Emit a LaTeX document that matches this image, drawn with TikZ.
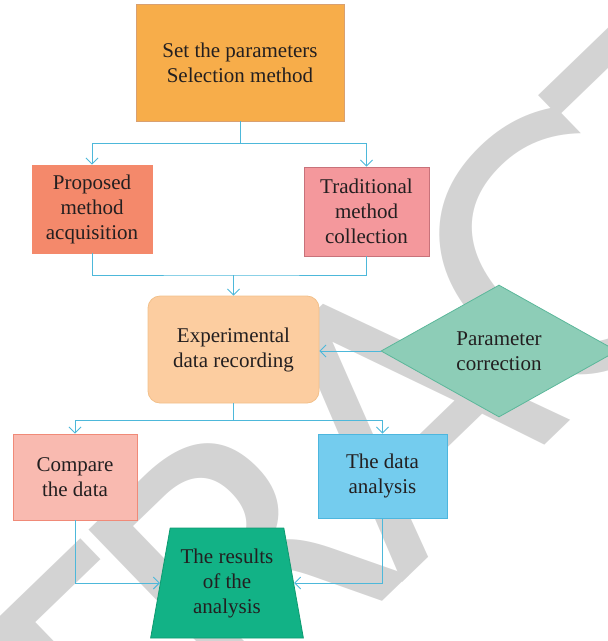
\documentclass[tikz,border=0pt]{standalone}
\usepackage{fontspec}
\setmainfont{Liberation Serif}
\newfontfamily\stampfont{DejaVu Sans}
\usepackage{tikz}
\usetikzlibrary{shapes.geometric}
\usetikzlibrary{arrows.meta}
\usetikzlibrary{calc}
\usepackage{xcolor}

\definecolor{linkblue}{HTML}{4DB8DA}
\definecolor{txtgray}{HTML}{231F20}
\definecolor{stampgray}{HTML}{D3D3D3}
\definecolor{paramfill}{HTML}{F7AD4A}
\definecolor{paramline}{HTML}{D9A070}
\definecolor{propfill}{HTML}{F4896B}
\definecolor{tradfill}{HTML}{F4989C}
\definecolor{tradline}{HTML}{C8727A}
\definecolor{expfill}{HTML}{FCCDA0}
\definecolor{expline}{HTML}{F2C08A}
\definecolor{corrfill}{HTML}{8DCDB7}
\definecolor{corrline}{HTML}{5BB79A}
\definecolor{cmpfill}{HTML}{F9BAB0}
\definecolor{cmpline}{HTML}{F08A78}
\definecolor{anafill}{HTML}{74CCEE}
\definecolor{analine}{HTML}{4DB6DE}
\definecolor{resfill}{HTML}{12B286}
\definecolor{resline}{HTML}{0E9A70}

\newcommand{\tk}{\kern-22pt}

\tikzset{
  box/.style={draw, line width=0.8pt, align=center, text=txtgray, inner sep=0pt,
    font=\fontsize{21}{25}\selectfont},
  line/.style={draw=linkblue, line width=0.9pt},
  conn/.style={line, -{Straight Barb[length=6pt,width=12pt]}},
}

\begin{document}
\begin{tikzpicture}[x=1pt,y=-1pt]
\useasboundingbox (0,0) rectangle (608,641);
% watermark
\node[text=stampgray, rotate=44, font=\fontsize{350}{350}\selectfont\stampfont] (stamp) at (408,400) {R\tk E\tk T\tk R\tk A\tk C\tk T\tk E\tk D};

\node[box, fill=paramfill, draw=paramline, minimum width=208, minimum height=117] (params) at (240,62.5) {Set the parameters\\Selection method};
\node[box, fill=propfill, draw=propfill, minimum width=120, minimum height=88] (proposed) at (92,209) {Proposed\\method\\acquisition};
\node[box, fill=tradfill, draw=tradline, minimum width=125, minimum height=89] (traditional) at (366.5,211.5) {Traditional\\method\\collection};
\node[box, fill=expfill, draw=expline, rounded corners=12pt, minimum width=171, minimum height=107] (exp) at (233.5,349.5) {Experimental\\data recording};
\node[box, diamond, aspect=1.79, fill=corrfill, draw=corrline, minimum width=236, minimum height=132] (correction) at (499,351) {Parameter\\correction};
\node[box, fill=cmpfill, draw=cmpline, minimum width=124, minimum height=86] (compare) at (75,477) {Compare\\the data};
\node[box, fill=anafill, draw=analine, minimum width=129, minimum height=84] (analysis) at (382.5,476) {The data\\analysis};
\node[box, trapezium, trapezium left angle=77, trapezium right angle=77, trapezium stretches=true,
  fill=resfill, draw=resline, minimum width=153, minimum height=110] (results) at (227,583) {The results\\of the\\analysis};

\draw[conn] (params.south) -- ++(0,22) -| (proposed.north);
\draw[conn] (params.south) -- ++(0,22) -| (traditional.north);
\coordinate (join1) at (exp.north |- 0,275);
\draw[line] (proposed.south) |- (join1) -| (traditional.south);
\draw[conn] (join1) -- (exp.north);
\draw[conn] (correction.west) -- (correction.west -| exp.east);
\draw[conn] (exp.south) -- ++(0,17) -| (compare.north);
\draw[conn] (exp.south) -- ++(0,17) -| (analysis.north);
\draw[conn] (compare.south) |- (results.left side);
\draw[conn] (analysis.south) |- (results.right side);
\end{tikzpicture}
\end{document}
